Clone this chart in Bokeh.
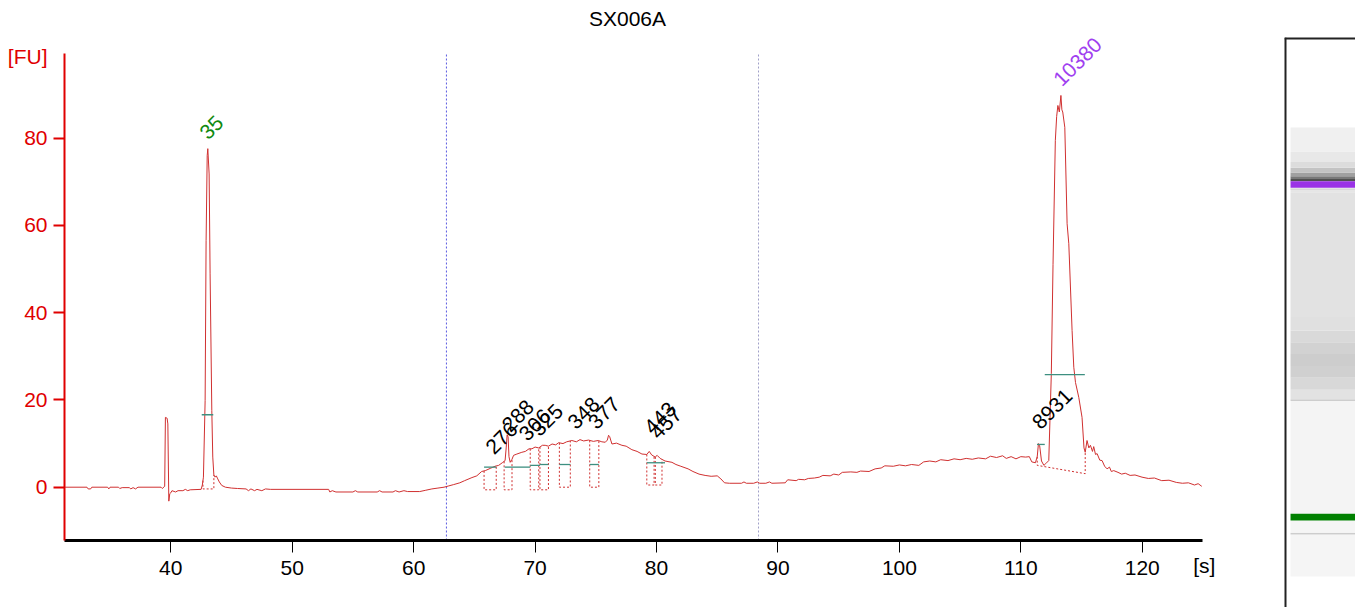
import numpy as np
from bokeh.plotting import figure
from bokeh.models import Range1d, FixedTicker, Span, Label, LabelSet, ColumnDataSource, LinearAxis
from bokeh.layouts import row
from bokeh.embed import file_html
from bokeh.resources import INLINE
from bokeh.core.properties import value

# ---------------- data ----------------
title_text = "SX006A"
x_unit = "[s]"
y_unit = "[FU]"
x_ticks = [40, 50, 60, 70, 80, 90, 100, 110, 120]
y_ticks = [0, 20, 40, 60, 80]

trace_t = [31.3, 33.1, 33.2, 33.4, 33.5, 34.8, 34.9, 35.0, 35.7, 35.8, 36.0, 36.6, 36.7, 36.9, 37.1, 37.3,
           39.2, 39.3, 39.5, 39.56, 39.70, 39.76, 39.84, 39.92, 40.0, 40.1, 40.4, 40.6, 41.0, 41.2, 41.4,
           41.6, 42.5, 42.6, 42.69, 42.83, 42.91, 43.0, 43.05, 43.16, 43.24, 43.38, 43.46, 43.55, 43.65,
           43.75, 43.87, 44.0, 44.2, 44.5, 45.0, 45.5, 46.2, 46.4, 46.6, 46.9, 47.1, 47.5, 47.8, 48.2,
           53.0, 53.1, 53.3, 53.6, 55.0, 55.2, 55.4, 57.0, 57.2, 57.4, 58.3, 58.5, 58.8, 59.2, 59.5,
           60.5, 61.0, 61.5, 62.0, 62.5, 62.9, 63.3, 63.8, 64.2, 64.8, 65.2, 65.6, 65.9, 66.3, 66.7,
           67.0, 67.3, 67.53, 67.62, 67.70, 67.78, 67.85, 67.95, 68.1, 68.23, 68.5, 68.91, 69.2, 69.5,
           69.74, 70.0, 70.3, 70.6, 70.83, 71.1, 71.4, 71.7, 71.94, 72.3, 72.6, 73.03, 73.4, 73.7,
           74.0, 74.4, 74.8, 75.2, 75.5, 75.78, 75.95, 76.05, 76.14, 76.25, 76.33, 76.7, 77.15, 77.5,
           77.97, 78.4, 78.8, 79.2, 79.4, 79.6, 79.89, 80.05, 80.3, 80.7, 81.27, 81.6, 82.0, 82.6,
           83.0, 83.5, 84.0, 84.5, 85.0, 85.3, 85.6, 86.0, 87.0, 87.2, 87.4, 88.0, 88.3, 88.5, 89.0,
           89.3, 89.5, 90.6, 90.8, 91.5, 91.7, 92.2, 92.5, 93.0, 93.4, 93.7, 94.3, 94.6, 95.0, 95.3,
           96.0, 96.5, 96.8, 97.5, 98.0, 98.5, 98.8, 99.5, 100.0, 100.5, 101.0, 101.6, 102.0, 102.5,
           103.0, 103.4, 104.0, 104.5, 105.0, 105.5, 106.0, 106.5, 107.1, 107.5, 108.0, 108.5, 108.8,
           109.2, 109.6, 110.0, 110.4, 110.7, 110.9, 111.2, 111.35, 111.45, 111.55, 111.7, 111.9,
           112.05, 112.30, 112.51, 112.65, 112.84, 112.95, 113.05, 113.17, 113.3, 113.38, 113.45,
           113.62, 113.81, 113.95, 114.22, 114.36, 114.5, 114.77, 115.04, 115.2, 115.3, 115.45, 115.6,
           115.73, 115.9, 116.0, 116.15, 116.28, 116.5, 116.69, 116.9, 117.1, 117.3, 117.45, 117.65,
           118.0, 118.3, 118.6, 119.0, 119.4, 119.98, 120.5, 121.0, 121.6, 122.2, 122.8, 123.3, 123.8,
           124.3, 124.6, 124.9]
trace_fu = [0.0, 0.0, -0.4, -0.4, 0.0, 0.0, -0.4, 0.0, 0.0, -0.3, -0.1, -0.1, -0.4, -0.1, -0.4, 0.0,
            0.0, -0.3, 0.2, 16.0, 15.8, 14.5, -3.2, -1.5, -1.3, -0.8, -1.1, -0.8, -0.8, -0.5, -0.8,
            -0.6, -0.5, 0.5, 2.3, 19.9, 56.5, 76.0, 77.6, 71.8, 48.9, 17.6, 6.9, 2.8, 2.3,
            2.6, 1.9, 1.2, 0.4, 0.0, -0.2, -0.3, -0.4, -0.8, -0.4, -0.8, -0.5, -0.8, -0.4, -0.5,
            -0.5, -1.1, -0.8, -1.1, -1.1, -0.8, -1.1, -1.1, -0.8, -1.1, -1.1, -0.8, -1.1, -0.8, -1.0,
            -1.0, -0.7, -0.4, -0.2, 0.0, 0.3, 0.6, 1.0, 1.5, 2.2, 2.6, 3.6, 3.8, 4.3, 4.8,
            5.0, 5.6, 6.1, 9.0, 12.0, 11.5, 7.0, 5.7, 6.4, 7.3, 7.6, 8.0, 8.2, 8.8,
            8.8, 9.2, 9.0, 9.6, 9.6, 9.4, 9.9, 9.7, 10.2, 10.0, 10.4, 10.7, 10.4, 10.9,
            10.6, 10.8, 10.5, 10.7, 10.4, 10.3, 10.8, 11.9, 11.6, 10.6, 9.9, 10.1, 9.6, 9.4,
            8.6, 8.2, 7.6, 7.5, 8.2, 7.4, 6.9, 7.3, 6.6, 6.0, 5.7, 5.2, 4.8, 4.2,
            3.6, 3.0, 2.7, 2.5, 2.6, 1.9, 1.0, 0.9, 0.9, 1.2, 0.9, 0.9, 1.2, 0.9, 0.9,
            1.2, 0.9, 1.0, 1.7, 1.5, 1.8, 1.7, 2.0, 2.1, 2.3, 2.7, 2.6, 3.0, 2.8, 3.4,
            3.5, 3.4, 3.7, 3.6, 4.2, 4.4, 4.9, 4.8, 5.1, 4.9, 5.2, 5.0, 5.8, 6.0,
            5.8, 6.3, 6.1, 6.5, 6.3, 6.6, 6.4, 6.7, 6.5, 7.1, 6.8, 7.2, 6.6,
            7.0, 6.5, 7.0, 6.9, 7.0, 5.8, 5.6, 7.0, 10.0, 9.5, 6.0, 5.0,
            5.4, 6.1, 26.0, 51.0, 79.5, 85.0, 87.5, 86.0, 89.8, 86.5, 86.0,
            82.5, 60.4, 55.8, 35.9, 27.5, 24.0, 20.6, 16.0, 9.0, 8.0, 10.7, 9.0,
            9.6, 8.2, 9.3, 7.5, 7.7, 6.2, 6.1, 4.8, 4.2, 4.6, 3.6, 3.8,
            3.4, 3.0, 3.2, 2.7, 2.8, 2.3, 2.0, 2.1, 1.5, 1.6, 1.1, 0.9, 1.0,
            0.5, 0.8, 0.2]

# ladder (marker) peaks
ladder_t = [43.08, 113.38]
ladder_fu = [77.6, 89.8]
ladder_lbl = ["35", "10380"]

# sample peaks
peak_t = [66.55, 67.9, 69.3, 70.3, 73.3, 75.0, 79.6, 80.1, 111.55]
peak_fu = [5.9, 11.0, 8.9, 10.0, 11.6, 11.6, 10.5, 9.3, 11.6]
peak_lbl = ["276", "288", "306", "325", "348", "377", "443", "457", "8931"]

# peak width markers
width_lo = [42.55, 65.8, 67.5, 69.6, 70.4, 72.0, 74.5, 79.2, 111.33, 111.97]
width_hi = [43.5, 66.8, 69.6, 70.4, 71.1, 72.9, 75.25, 80.7, 111.97, 115.27]
width_fu = [16.6, 4.6, 4.6, 5.0, 5.2, 5.2, 5.2, 5.6, 9.8, 25.8]

# integration areas
area_lo = [42.65, 65.8, 67.45, 69.6, 70.4, 72.0, 74.5, 79.2, 79.9, 111.35]
area_hi = [43.55, 66.8, 68.1, 70.3, 71.1, 72.9, 75.25, 79.8, 80.45, 115.3]
area_base_lo = [-0.4, -0.6, -0.6, -0.6, -0.6, 0.0, 0.0, 0.5, 0.5, 5.0]
area_base_hi = [-0.4, -0.6, -0.6, -0.6, -0.6, 0.0, 0.0, 0.5, 0.5, 3.1]

region_bounds = [62.7, 88.4]

# gel lane (time segments and grey level)
lane_lo = [30.6, 39.45, 39.85, 43.83, 67.6, 68.0, 70.0, 72.5, 75.0, 77.5, 80.0, 82.5, 85.3, 111.6,
           112.15, 112.4, 113.95, 114.4, 115.0, 115.8, 116.8, 118.0, 120.2]
lane_hi = [39.45, 39.85, 42.42, 67.6, 68.0, 70.0, 72.5, 75.0, 77.5, 80.0, 82.5, 85.3, 111.6, 112.15,
           112.4, 112.56, 114.4, 115.0, 115.8, 116.8, 118.0, 120.2, 125.3]
lane_level = [245, 205, 245, 244, 205, 226, 216, 208, 205, 210, 217, 224, 226, 230,
              205, 226, 80, 120, 160, 195, 220, 232, 240]
marker_lo = [42.42, 112.56]
marker_hi = [43.83, 113.95]

# ---------------- styles ----------------
RED = "#e00000"
TRACE = "#d03030"
TEAL = "#3d8f80"
LADDER_COL = ["#108a10", "#a040f0"]
MARKER_COL = ["#008000", "#9a32e6"]
FONT = "Liberation Sans"
FS = "21px"

PX_X = 12.144   # pixels per second
PX_Y = 4.3625   # pixels per FU
W1, H = 1270, 607
LEFT, BOTTOM = 64, 67
X0 = 31.25
X1 = 124.99                      # end of the drawn axis
XR = X0 + (W1 - LEFT) / PX_X     # frame extends to the right edge
Y0 = -12.22
Y1 = 99.42                       # end of the drawn axis
YR = Y0 + (H - BOTTOM) / PX_Y    # frame extends to the top edge

p = figure(width=W1, height=H, x_range=Range1d(X0, XR), y_range=Range1d(Y0, YR),
           output_backend="svg", toolbar_location=None,
           min_border_left=LEFT, min_border_right=0, min_border_top=0, min_border_bottom=BOTTOM)
p.outline_line_color = None
p.grid.visible = False
p.background_fill_color = "white"
p.border_fill_color = "white"

xa = p.xaxis[0]
ya = p.yaxis[0]
xa.bounds = (X0, X1)
ya.bounds = (Y0, Y1)
xa.ticker = FixedTicker(ticks=x_ticks)
ya.ticker = FixedTicker(ticks=y_ticks)
xa.minor_tick_line_color = None
ya.minor_tick_line_color = None
xa.axis_line_color = "black"
xa.axis_line_width = 3
xa.major_tick_line_color = "black"
xa.major_tick_out = 12
xa.major_tick_in = 0
xa.major_label_standoff = 8
xa.major_label_text_font = FONT
xa.major_label_text_font_size = FS
xa.major_label_text_color = "black"
ya.axis_line_color = RED
ya.axis_line_width = 2
ya.major_tick_line_color = RED
ya.major_tick_line_width = 2
ya.major_tick_out = 11
ya.major_tick_in = 0
ya.major_label_standoff = 6
ya.major_label_text_font = FONT
ya.major_label_text_font_size = FS
ya.major_label_text_color = RED

# unit labels as extra (line-less) axes
x_unit_pos = 125.1
xu = LinearAxis(ticker=FixedTicker(ticks=[x_unit_pos]), major_label_overrides={x_unit_pos: x_unit},
                axis_line_color=None, major_tick_line_color=None, minor_tick_line_color=None,
                major_tick_out=0, major_tick_in=0, major_label_standoff=-24,
                major_label_text_font=FONT, major_label_text_font_size=FS,
                major_label_text_color="black")
p.add_layout(xu, "below")
y_unit_pos = 98.7
yu = LinearAxis(ticker=FixedTicker(ticks=[y_unit_pos]), major_label_overrides={y_unit_pos: y_unit},
                axis_line_color=None, major_tick_line_color=None, minor_tick_line_color=None,
                major_tick_out=0, major_tick_in=0, major_label_standoff=-26,
                major_label_text_font=FONT, major_label_text_font_size=FS,
                major_label_text_color=RED)
p.add_layout(yu, "left")

# region bounds
p.segment(x0=region_bounds, y0=[Y0] * 2, x1=region_bounds, y1=[Y1] * 2,
          line_color=["#5a5ae0", "#a0a0c8"], line_width=1, line_dash="2 2")

# integration areas (dotted)
t_arr = np.array(trace_t)
f_arr = np.array(trace_fu)
xs, ys = [], []
for lo, hi, blo, bhi in zip(area_lo, area_hi, area_base_lo, area_base_hi):
    xs.append([lo, lo, hi, hi])
    ys.append([float(np.interp(lo, t_arr, f_arr)), blo, bhi, float(np.interp(hi, t_arr, f_arr))])
p.multi_line(xs=xs, ys=ys, line_color=TRACE, line_width=1, line_dash="2 2")

# trace
p.line(trace_t, trace_fu, line_color=TRACE, line_width=1)

# width markers
p.segment(x0=width_lo, y0=width_fu, x1=width_hi, y1=width_fu, line_color=TEAL, line_width=1.3)

# labels
ladder_src = ColumnDataSource(dict(x=ladder_t, y=ladder_fu, t=ladder_lbl, c=LADDER_COL))
p.add_layout(LabelSet(x="x", y="y", text="t", source=ladder_src, angle=np.pi / 4,
                      x_offset=0, y_offset=8, text_color="c", text_font=value(FONT),
                      text_font_size=value(FS), text_baseline="alphabetic"))
peak_src = ColumnDataSource(dict(x=peak_t, y=peak_fu, t=peak_lbl))
p.add_layout(LabelSet(x="x", y="y", text="t", source=peak_src, angle=np.pi / 4,
                      x_offset=1, y_offset=6, text_color="black", text_font=value(FONT),
                      text_font_size=value(FS), text_baseline="alphabetic"))

# title (inside the frame area, which reaches the top edge)
p.add_layout(Label(x=X0 + (627 - LEFT) / PX_X, y=Y0 + (H - BOTTOM - 18) / PX_Y, text=title_text,
                   text_align="center", text_baseline="middle", text_font=FONT,
                   text_font_size=FS, text_color="black"))

# ---------------- gel lane ----------------
LW = 1355 - W1
LANE_PX = 4.743
L1 = 144.25
L0 = L1 - (H - 37) / LANE_PX
lane = figure(width=LW, height=H, x_range=Range1d(0, 1), y_range=Range1d(L0, L1),
              x_axis_type=None, y_axis_type=None,
              output_backend="svg", toolbar_location=None,
              min_border_left=14, min_border_right=0, min_border_top=37, min_border_bottom=0)
lane.grid.visible = False
lane.outline_line_color = None
lane.background_fill_color = "white"
lane.border_fill_color = "white"
greys = ["#%02x%02x%02x" % (g, g, g) for g in lane_level]
lane.quad(left=0.085, right=1.0, bottom=lane_lo, top=lane_hi, fill_color=greys, line_color=None)
lane.quad(left=0.085, right=1.0, bottom=marker_lo, top=marker_hi, fill_color=MARKER_COL, line_color=None)
lane.add_layout(Span(location=0.0, dimension="height", line_color="#222222", line_width=4))
lane.add_layout(Span(location=L1, dimension="width", line_color="#222222", line_width=4))

for fig in (p, lane):
    try:
        fig.frame_align = False
    except Exception:
        pass

layout = row(p, lane)
open("out.html", "w").write(file_html(layout, INLINE))
